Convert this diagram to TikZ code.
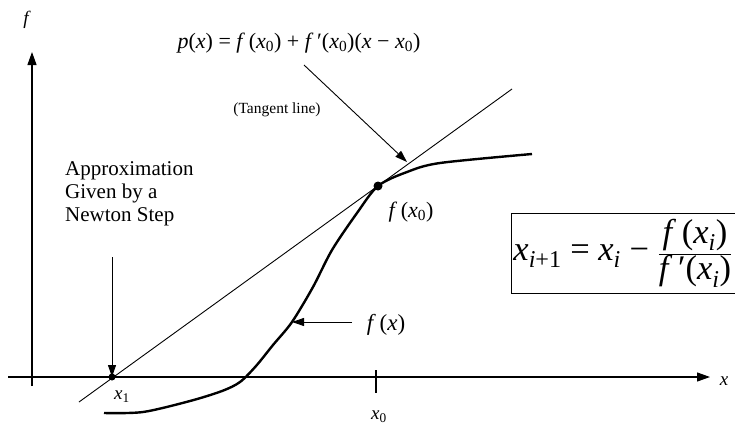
\documentclass[tikz,border=0pt]{standalone}
\usepackage{fontspec}
\setmainfont{Liberation Serif}
\usetikzlibrary{arrows.meta,positioning}
\newcommand\vr[1]{\textit{#1}}
\newcommand\sub[1]{\textsubscript{#1}}

\begin{document}
\begin{tikzpicture}[x=1pt,y=-1pt,
    axis/.style={line width=1.2pt,-{Triangle[length=13pt,width=9pt]}},
    arr/.style={line width=0.9pt,-{Triangle[length=12pt,width=8pt]}},
    lbl/.style={inner sep=0pt,font=\fontsize{19}{22.5}\selectfont}
  ]
  \useasboundingbox (0,0) rectangle (735,431);
  \clip (0,0) rectangle (735,431);
  % axes
  \coordinate (ybot) at (32,386);
  \coordinate (ytop) at (32,52);
  \coordinate (xleft) at (8,377);
  \coordinate (xright) at (710,377);
  \draw[axis] (ybot) -- (ytop);
  \draw[axis] (xleft) -- (xright);
  \node[lbl] (flab) at (27,20) {\vr{f}};
  \node[lbl] (xlab) at (724,381) {\vr{x}};
  % tick at x0
  \coordinate (tick0) at (376,370);
  \coordinate (tick1) at (376,393);
  \draw[line width=1.2pt] (tick0) -- (tick1);
  \node[lbl] (x0lab) at (379,417) {\vr{x}\sub{0}};
  % the function
  \draw[line width=2.4pt, line join=round] plot[smooth, tension=0.5] coordinates {
    (104,413) (143,412) (190,401) (222,391) (240,382) (256,366) (273,345)
    (292,322) (313,287) (332,250) (357,213) (378,186) (407,172) (440,163) (532,154)};
  % tangent line
  \coordinate (tanlo) at (79,402);
  \coordinate (tanhi) at (512,89);
  \draw[line width=0.9pt] (tanlo) -- (tanhi);
  \coordinate (x0pt) at (378,186);
  \coordinate (x1pt) at (112,377);
  \fill[black] (x0pt) circle (4.5pt);
  \fill[black] (x1pt) circle (3.5pt);
  \node[lbl] (x1lab) at (122,397) {\vr{x}\sub{1}};
  \node[lbl, font=\fontsize{22}{25}\selectfont] (fx0lab) at (411,212) {\vr{f}\,(\vr{x}\sub{0})};
  % labels and pointers
  \node[lbl, font=\fontsize{22}{25}\selectfont] (tangent) at (299,43)
    {\vr{p}(\vr{x}) = \vr{f}\,(\vr{x}\sub{0}) + \vr{f}\,′(\vr{x}\sub{0})(\vr{x} − \vr{x}\sub{0})};
  \node[lbl, font=\fontsize{15.5}{18}\selectfont] (tanname) at (277,110) {(Tangent line)};
  \coordinate (tanfrom) at (304,65);
  \coordinate (tanto) at (407,162);
  \draw[arr] (tanfrom) -- (tanto);
  \node[lbl, align=left, anchor=north west, font=\fontsize{21}{23}\selectfont] (newton) at (65,161)
    {Approximation\\Given by a\\Newton Step};
  \coordinate (stepfrom) at (112,257);
  \draw[arr] (stepfrom) -- (x1pt);
  \node[lbl, font=\fontsize{23}{26}\selectfont] (fxlab) at (386,325) {\vr{f}\,(\vr{x})};
  \coordinate (fxfrom) at (352,322);
  \coordinate (fxpt) at (292,322);
  \draw[arr] (fxfrom) -- (fxpt);
  % Newton's formula
  \node[draw, line width=0.9pt, anchor=west, inner xsep=2pt, inner ysep=6pt,
    font=\fontsize{34.5}{40}\selectfont] (formula) at (511,253)
    {\vr{x}\sub{\vr{i}+1} = \vr{x}\sub{\vr{i}} − $\displaystyle\frac{\hbox{\vr{f}\,(\vr{x}\sub{\vr{i}})}}{\hbox{\vr{f}\,′(\vr{x}\sub{\vr{i}})}}$\rule{14pt}{0pt}};
\end{tikzpicture}
\end{document}
